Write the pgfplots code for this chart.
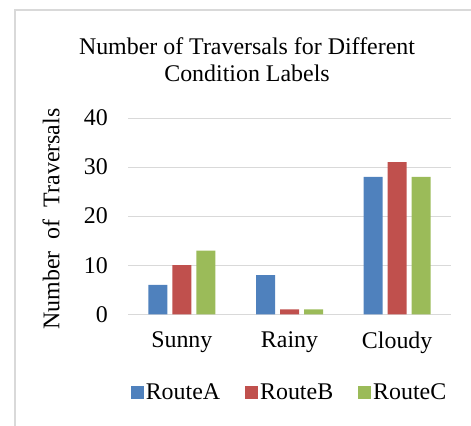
\documentclass[border=0pt]{standalone}
\usepackage{pgfplots}
\pgfplotsset{compat=1.18}
\usepackage{fontspec}
\setmainfont{Liberation Serif}
\definecolor{cA}{HTML}{4F81BD}
\definecolor{cB}{HTML}{C0504D}
\definecolor{cC}{HTML}{9BBB59}
\definecolor{gridc}{HTML}{D9D9D9}
\begin{document}
\begin{tikzpicture}[x=1bp,y=1bp]
\useasboundingbox (0,0) rectangle (471,425);
\draw[gridc, line width=1.5bp] (15,-5) -- (15,415) -- (480,415);
\node[align=center, font=\fontsize{24}{27}\selectfont] at (247,365) {Number of Traversals for Different\\Condition Labels};
\node[rotate=90, font=\fontsize{24}{27}\selectfont] at (51,206) {Number\ \ of\ \ Traversals};
\begin{axis}[
  at={(128bp,110.7bp)}, anchor=south west,
  width=323bp, height=196.3bp, scale only axis,
  ybar, ybar=5bp, bar width=19bp,
  xmin=-0.5, xmax=2.5, ymin=0, ymax=40,
  xtick=data, xticklabels={Sunny,Rainy,Cloudy},
  ytick={0,10,20,30,40},
  ymajorgrids, grid style={gridc, line width=1bp},
  axis line style={draw=none},
  major tick length=0pt,
  /pgf/number format/assume math mode=true,
  tick label style={font=\fontsize{24}{27}\selectfont},
  yticklabel style={inner sep=0pt, xshift=-20bp},
  xticklabel style={inner sep=0pt, yshift=-17bp},
  legend columns=3,
  legend style={draw=none, at={(0.5,-0.397)}, anchor=center, font=\fontsize{24}{27}\selectfont,
    /tikz/every even column/.append style={column sep=23bp}, nodes={inner sep=2bp}},
  legend image code/.code={\fill[#1] (0bp,-6.5bp) rectangle (13bp,6.5bp);},
]
\addplot[fill=cA, draw=none] coordinates {(0,6) (1,8) (2,28)};
\addplot[fill=cB, draw=none] coordinates {(0,10) (1,1) (2,31)};
\addplot[fill=cC, draw=none] coordinates {(0,13) (1,1) (2,28)};
\legend{RouteA,RouteB,RouteC}
\end{axis}
\end{tikzpicture}
\end{document}
